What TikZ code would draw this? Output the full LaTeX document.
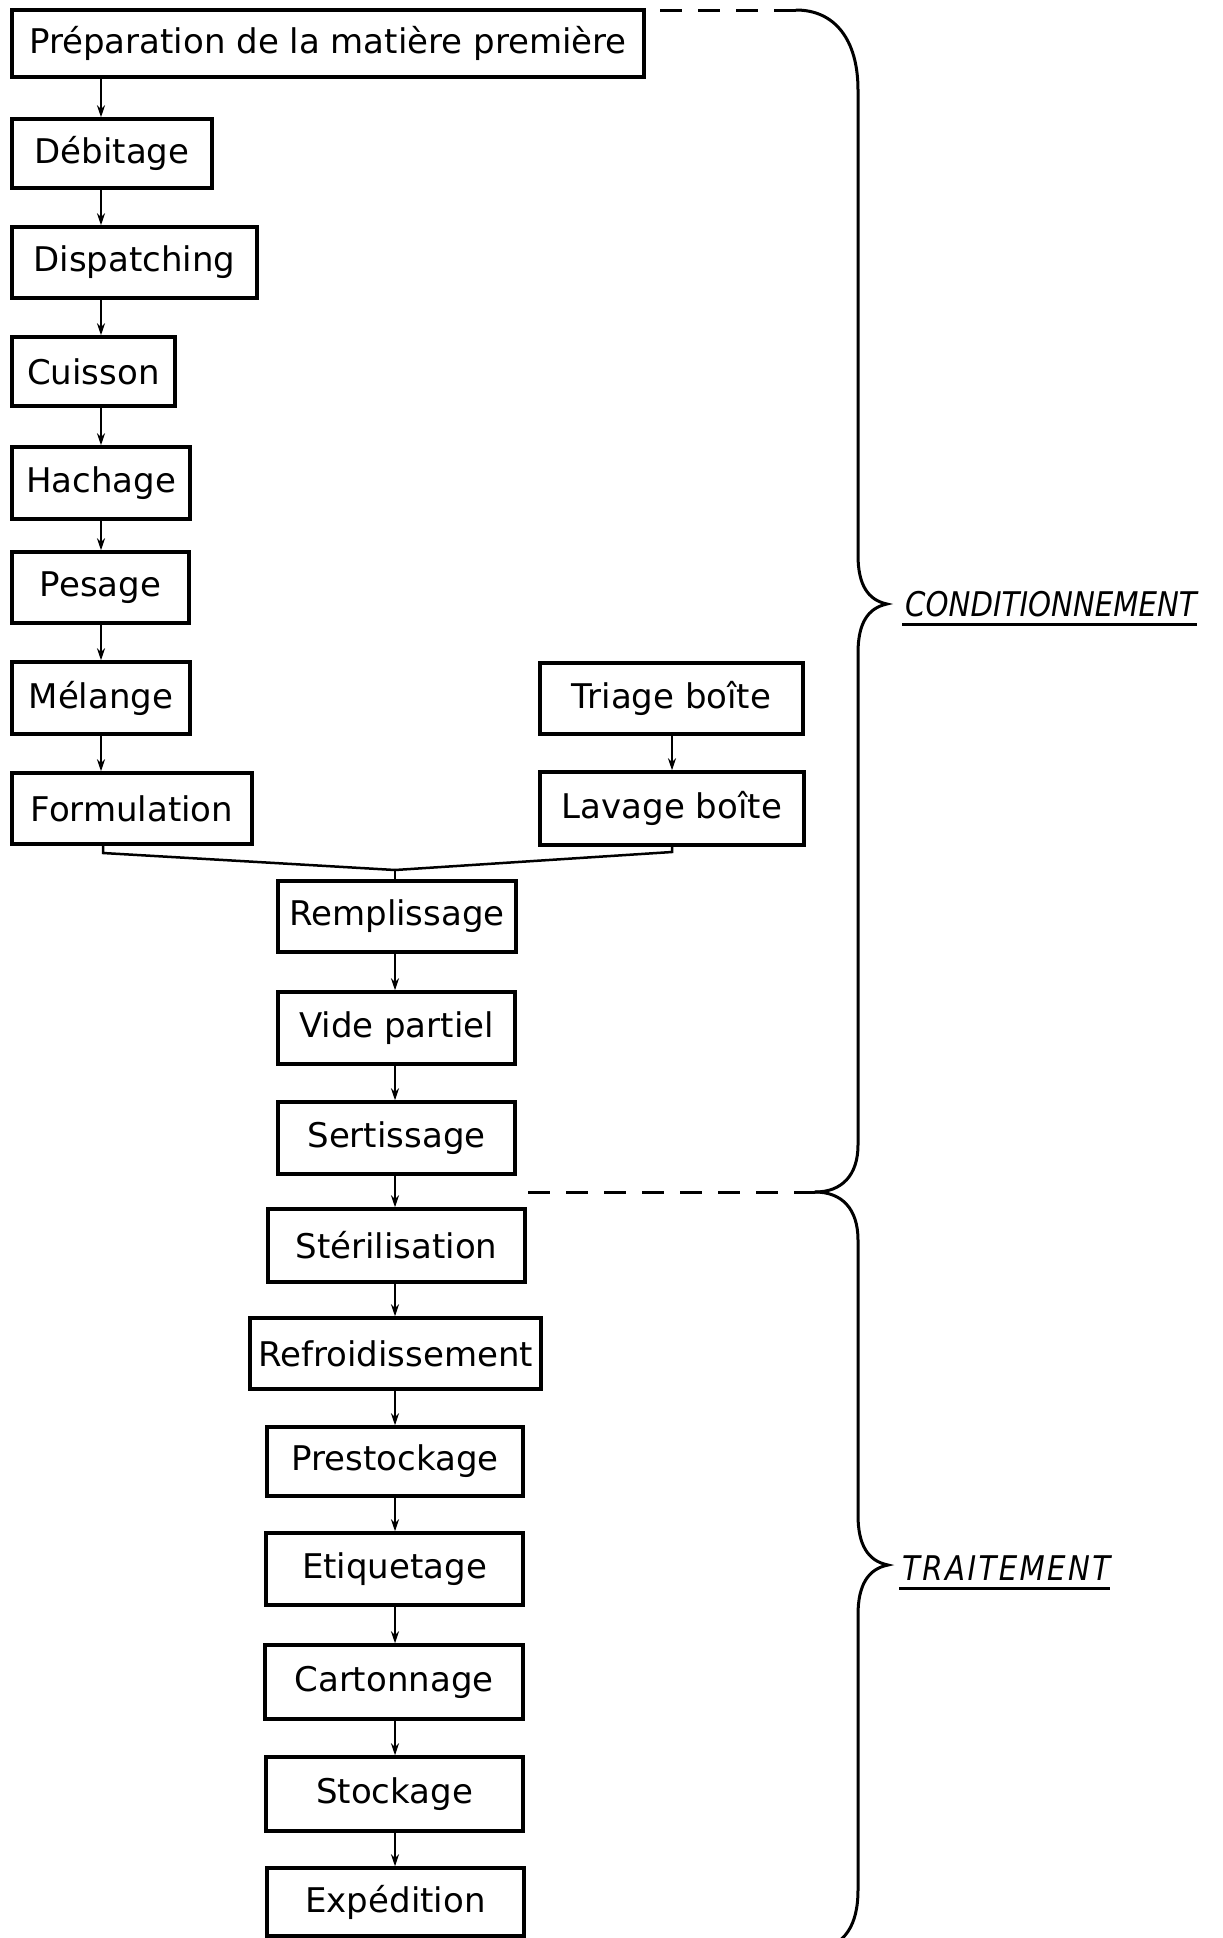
\documentclass[tikz,border=0pt]{standalone}
\usepackage{fontspec}
\setmainfont{DejaVu Sans}
\newfontfamily\condfont{DejaVu Sans}[FakeStretch=0.86]
\newfontfamily\traitfont{DejaVu Sans}[FakeStretch=0.86,LetterSpace=7]
\usetikzlibrary{arrows.meta}

\begin{document}
\begin{tikzpicture}[x=1pt,y=1pt,
  stepbox/.style={draw, line width=3.5pt, inner sep=0pt,
    font=\fontsize{34}{40}\selectfont},
  flow/.style={line width=2.5pt, -{Stealth[length=12pt,width=8pt]}},
  link/.style={line width=2.5pt},
  brace/.style={line width=3pt, line cap=round},
  split/.style={line width=3pt, dash pattern=on 22pt off 16pt},
  lbl/.style={inner sep=0pt, anchor=base west,
    font=\fontsize{34}{40}\selectfont\itshape},
  uline/.style={line width=3pt}]
\useasboundingbox (0,0) rectangle (1223,-1938);
\clip (0,0) rectangle (1223,-1938);

% --- preparation chain (left column)
\node[stepbox, minimum width=632, minimum height=67] (prep)  at (328,-43.5)  {Préparation de la matière première};
\node[stepbox, minimum width=200, minimum height=69] (deb)   at (112,-153.5) {Débitage};
\node[stepbox, minimum width=245, minimum height=71] (disp)  at (134.5,-262.5) {Dispatching};
\node[stepbox, minimum width=163, minimum height=69] (cuis)  at (93.5,-371.5) {Cuisson};
\node[stepbox, minimum width=178, minimum height=72] (hach)  at (101,-483)   {Hachage};
\node[stepbox, minimum width=177, minimum height=71] (pes)   at (100.5,-587.5) {Pesage};
\node[stepbox, minimum width=178, minimum height=72] (mel)   at (101,-698)   {Mélange};
\node[stepbox, minimum width=240, minimum height=71] (form)  at (132,-808.5) {Formulation};

% --- can handling (right column)
\node[stepbox, minimum width=263, minimum height=71] (tri)   at (671.5,-698.5) {Triage boîte};
\node[stepbox, minimum width=264, minimum height=73] (lav)   at (672,-808.5) {Lavage boîte};

% --- packing and treatment (centre column)
\node[stepbox, minimum width=238, minimum height=71] (rem)   at (397,-916.5)  {Remplissage};
\node[stepbox, minimum width=237, minimum height=72] (vide)  at (396.5,-1028)  {Vide partiel};
\node[stepbox, minimum width=237, minimum height=72] (sert)  at (396.5,-1138)  {Sertissage};
\node[stepbox, minimum width=257, minimum height=73] (ster)  at (396.5,-1245.5) {Stérilisation};
\node[stepbox, minimum width=291, minimum height=71] (refr)  at (395.5,-1353.5) {Refroidissement};
\node[stepbox, minimum width=256, minimum height=69] (prest) at (395,-1461.5)   {Prestockage};
\node[stepbox, minimum width=257, minimum height=72] (etiq)  at (394.5,-1569)   {Etiquetage};
\node[stepbox, minimum width=258, minimum height=74] (cart)  at (394,-1682)     {Cartonnage};
\node[stepbox, minimum width=257, minimum height=74] (stock) at (394.5,-1794)   {Stockage};
\node[stepbox, minimum width=257, minimum height=68] (exp)   at (395.5,-1902)   {Expédition};

% --- column lines
\coordinate (colL) at (101,0);
\coordinate (colC) at (395,0);
\coordinate (colR) at (672,0);

\foreach \a/\b in {prep/deb, deb/disp, disp/cuis, cuis/hach, hach/pes, pes/mel, mel/form}
  \draw[flow] (\a.south -| colL) -- (\b.north -| colL);
\draw[flow] (tri.south -| colR) -- (lav.north -| colR);
\foreach \a/\b in {rem/vide, vide/sert, sert/ster, ster/refr, refr/prest, prest/etiq, etiq/cart, cart/stock, stock/exp}
  \draw[flow] (\a.south -| colC) -- (\b.north -| colC);

% --- the two branches join above the filling step
\coordinate (fstub) at (103,-853);
\coordinate (lstub) at (672,-852);
\coordinate (join)  at (395,-870);
\draw[link] (form.south -| fstub) -- (fstub) -- (join);
\draw[link] (lav.south -| lstub) -- (lstub) -- (join);
\draw[link] (join) -- (rem.north -| join);

% --- phase braces
\coordinate (d0)   at (660,-10);
\coordinate (ctop) at (796,-10);
\coordinate (d1)   at (528,-1192);
\coordinate (cmid) at (815,-1192);
\coordinate (tip1) at (887,-604);
\coordinate (tip2) at (888,-1565);
\coordinate (cbot) at (818,-1950);

\draw[split] (d0) -- (ctop);
\draw[split] (d1) -- (cmid);

\draw[brace] (ctop) .. controls (835,-10) and (858,-40) .. (858,-90)
  -- (858,-555) .. controls (858,-585) and (868,-600) .. (tip1)
  .. controls (868,-608) and (858,-623) .. (858,-653)
  -- (858,-1145) .. controls (858,-1175) and (842,-1192) .. (cmid);
\draw[brace] (cmid) .. controls (842,-1192) and (858,-1209) .. (858,-1240)
  -- (858,-1515) .. controls (858,-1545) and (868,-1561) .. (tip2)
  .. controls (868,-1569) and (858,-1585) .. (858,-1615)
  -- (858,-1890) .. controls (858,-1925) and (845,-1945) .. (cbot);

% --- phase labels
\node[lbl] (cond)  at (905,-616)  {\condfont CONDITIONNEMENT};
\node[lbl] (trait) at (902,-1580) {\traitfont TRAITEMENT};
\draw[uline] ([shift={(-3pt,-8pt)}]cond.base west) -- ([yshift=-8pt]cond.base east);
\draw[uline] ([shift={(-3pt,-8pt)}]trait.base west) -- ([yshift=-8pt]trait.base east);
\end{tikzpicture}
\end{document}
